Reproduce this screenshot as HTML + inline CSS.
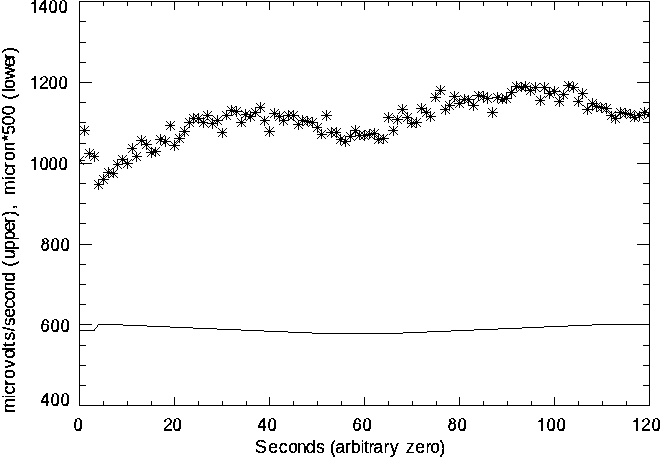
<!DOCTYPE html>
<html><head><meta charset="utf-8"><title>plot</title>
<style>
html,body{margin:0;padding:0;background:#fff;}
body{width:660px;height:457px;overflow:hidden;}
svg{display:block;}
text{font-family:"Liberation Sans",sans-serif;font-size:17.65px;white-space:pre;fill:#000;}
</style></head><body>
<svg width="660" height="457" viewBox="0 0 660 457">
<defs>
<filter id="th" x="-5%" y="-20%" width="110%" height="140%" color-interpolation-filters="sRGB">
<feComponentTransfer><feFuncA type="discrete" tableValues="0 1 1"/></feComponentTransfer>
</filter>
<clipPath id="clip"><rect x="79" y="1" width="571" height="405"/></clipPath>
<g id="a"><path d="M-5 0.5H6M0.5 -5V6M-3 -3L4 4M-3 4L4 -3" /></g>
</defs>
<rect width="660" height="457" fill="#fff"/>

<path fill="#000" shape-rendering="crispEdges" d="M79 1h571v1h-571zM79 405h571v1h-571zM79 1h1v405h-1zM649 1h1v405h-1zM103 401h1v5h-1zM103 1h1v5h-1zM127 401h1v5h-1zM127 1h1v5h-1zM151 401h1v5h-1zM151 1h1v5h-1zM174 397h1v9h-1zM174 1h1v9h-1zM198 401h1v5h-1zM198 1h1v5h-1zM222 401h1v5h-1zM222 1h1v5h-1zM246 401h1v5h-1zM246 1h1v5h-1zM269 397h1v9h-1zM269 1h1v9h-1zM293 401h1v5h-1zM293 1h1v5h-1zM317 401h1v5h-1zM317 1h1v5h-1zM341 401h1v5h-1zM341 1h1v5h-1zM364 397h1v9h-1zM364 1h1v9h-1zM388 401h1v5h-1zM388 1h1v5h-1zM412 401h1v5h-1zM412 1h1v5h-1zM436 401h1v5h-1zM436 1h1v5h-1zM459 397h1v9h-1zM459 1h1v9h-1zM483 401h1v5h-1zM483 1h1v5h-1zM507 401h1v5h-1zM507 1h1v5h-1zM531 401h1v5h-1zM531 1h1v5h-1zM554 397h1v9h-1zM554 1h1v9h-1zM578 401h1v5h-1zM578 1h1v5h-1zM602 401h1v5h-1zM602 1h1v5h-1zM626 401h1v5h-1zM626 1h1v5h-1zM79 385h7v1h-7zM643 385h7v1h-7zM79 365h7v1h-7zM643 365h7v1h-7zM79 345h7v1h-7zM643 345h7v1h-7zM79 324h13v1h-13zM637 324h13v1h-13zM79 304h7v1h-7zM643 304h7v1h-7zM79 284h7v1h-7zM643 284h7v1h-7zM79 264h7v1h-7zM643 264h7v1h-7zM79 244h13v1h-13zM637 244h13v1h-13zM79 223h7v1h-7zM643 223h7v1h-7zM79 203h7v1h-7zM643 203h7v1h-7zM79 183h7v1h-7zM643 183h7v1h-7zM79 163h13v1h-13zM637 163h13v1h-13zM79 143h7v1h-7zM643 143h7v1h-7zM79 122h7v1h-7zM643 122h7v1h-7zM79 102h7v1h-7zM643 102h7v1h-7zM79 82h13v1h-13zM637 82h13v1h-13zM79 62h7v1h-7zM643 62h7v1h-7zM79 42h7v1h-7zM643 42h7v1h-7zM79 21h7v1h-7zM643 21h7v1h-7z"/>
<g fill="#000" shape-rendering="crispEdges">
<rect x="79" y="330" width="16" height="1"/>
<rect x="94" y="329" width="1" height="1"/>
<rect x="95" y="328" width="1" height="1"/>
<rect x="96" y="327" width="1" height="1"/>
<rect x="97" y="326" width="1" height="1"/>
<rect x="97" y="325" width="1" height="1"/>
<rect x="98" y="324" width="25" height="1"/>
<rect x="123" y="325" width="24" height="1"/>
<rect x="147" y="326" width="23" height="1"/>
<rect x="170" y="327" width="23" height="1"/>
<rect x="193" y="328" width="24" height="1"/>
<rect x="217" y="329" width="24" height="1"/>
<rect x="241" y="330" width="23" height="1"/>
<rect x="264" y="331" width="24" height="1"/>
<rect x="288" y="332" width="24" height="1"/>
<rect x="312" y="333" width="91" height="1"/>
<rect x="403" y="332" width="24" height="1"/>
<rect x="427" y="331" width="24" height="1"/>
<rect x="451" y="330" width="23" height="1"/>
<rect x="474" y="329" width="24" height="1"/>
<rect x="498" y="328" width="24" height="1"/>
<rect x="522" y="327" width="22" height="1"/>
<rect x="544" y="326" width="24" height="1"/>
<rect x="568" y="325" width="24" height="1"/>
<rect x="592" y="324" width="58" height="1"/>
</g>
<defs>
<path id="s0" d="M-4 0h10v1h-10zM0 -4h1v10h-1zM-4 -4h1v1h-1zM-4 4h1v1h-1zM-3 -3h1v1h-1zM-3 3h1v1h-1zM-2 -2h1v1h-1zM-2 2h1v1h-1zM-1 -1h1v1h-1zM-1 1h1v1h-1zM1 1h1v1h-1zM1 -1h1v1h-1zM2 2h1v1h-1zM2 -2h1v1h-1zM3 3h1v1h-1zM3 -3h1v1h-1zM4 4h1v1h-1zM4 -4h1v1h-1z"/>
<path id="s1" d="M-5 0h11v1h-11zM0 -5h1v11h-1zM-4 -4h1v1h-1zM-4 4h1v1h-1zM-3 -3h1v1h-1zM-3 3h1v1h-1zM-2 -2h1v1h-1zM-2 2h1v1h-1zM-1 -1h1v1h-1zM-1 1h1v1h-1zM1 1h1v1h-1zM1 -1h1v1h-1zM2 2h1v1h-1zM2 -2h1v1h-1zM3 3h1v1h-1zM3 -3h1v1h-1zM4 4h1v1h-1zM4 -4h1v1h-1z"/>
<path id="s2" d="M-5 0h10v1h-10zM0 -5h1v11h-1zM-4 -4h1v1h-1zM-4 4h1v1h-1zM-3 -3h1v1h-1zM-3 3h1v1h-1zM-2 -2h1v1h-1zM-2 2h1v1h-1zM-1 -1h1v1h-1zM-1 1h1v1h-1zM1 1h1v1h-1zM1 -1h1v1h-1zM2 2h1v1h-1zM2 -2h1v1h-1zM3 3h1v1h-1zM3 -3h1v1h-1zM4 4h1v1h-1zM4 -4h1v1h-1z"/>
<path id="s3" d="M-4 0h10v1h-10zM0 -5h1v11h-1zM-4 -4h1v1h-1zM-4 4h1v1h-1zM-3 -3h1v1h-1zM-3 3h1v1h-1zM-2 -2h1v1h-1zM-2 2h1v1h-1zM-1 -1h1v1h-1zM-1 1h1v1h-1zM1 1h1v1h-1zM1 -1h1v1h-1zM2 2h1v1h-1zM2 -2h1v1h-1zM3 3h1v1h-1zM3 -3h1v1h-1zM4 4h1v1h-1zM4 -4h1v1h-1z"/>
<path id="s4" d="M-5 0h10v1h-10zM0 -5h1v10h-1zM-4 -4h1v1h-1zM-4 4h1v1h-1zM-3 -3h1v1h-1zM-3 3h1v1h-1zM-2 -2h1v1h-1zM-2 2h1v1h-1zM-1 -1h1v1h-1zM-1 1h1v1h-1zM1 1h1v1h-1zM1 -1h1v1h-1zM2 2h1v1h-1zM2 -2h1v1h-1zM3 3h1v1h-1zM3 -3h1v1h-1zM4 4h1v1h-1zM4 -4h1v1h-1z"/>
<path id="s5" d="M-4 0h10v1h-10zM0 -5h1v10h-1zM-4 -4h1v1h-1zM-4 4h1v1h-1zM-3 -3h1v1h-1zM-3 3h1v1h-1zM-2 -2h1v1h-1zM-2 2h1v1h-1zM-1 -1h1v1h-1zM-1 1h1v1h-1zM1 1h1v1h-1zM1 -1h1v1h-1zM2 2h1v1h-1zM2 -2h1v1h-1zM3 3h1v1h-1zM3 -3h1v1h-1zM4 4h1v1h-1zM4 -4h1v1h-1z"/>
<path id="s6" d="M-5 0h11v1h-11zM0 -4h1v10h-1zM-4 -4h1v1h-1zM-4 4h1v1h-1zM-3 -3h1v1h-1zM-3 3h1v1h-1zM-2 -2h1v1h-1zM-2 2h1v1h-1zM-1 -1h1v1h-1zM-1 1h1v1h-1zM1 1h1v1h-1zM1 -1h1v1h-1zM2 2h1v1h-1zM2 -2h1v1h-1zM3 3h1v1h-1zM3 -3h1v1h-1zM4 4h1v1h-1zM4 -4h1v1h-1z"/>
<path id="s7" d="M-5 0h10v1h-10zM0 -4h1v10h-1zM-4 -4h1v1h-1zM-4 4h1v1h-1zM-3 -3h1v1h-1zM-3 3h1v1h-1zM-2 -2h1v1h-1zM-2 2h1v1h-1zM-1 -1h1v1h-1zM-1 1h1v1h-1zM1 1h1v1h-1zM1 -1h1v1h-1zM2 2h1v1h-1zM2 -2h1v1h-1zM3 3h1v1h-1zM3 -3h1v1h-1zM4 4h1v1h-1zM4 -4h1v1h-1z"/>
<path id="s8" d="M-5 0h11v1h-11zM0 -5h1v10h-1zM-4 -4h1v1h-1zM-4 4h1v1h-1zM-3 -3h1v1h-1zM-3 3h1v1h-1zM-2 -2h1v1h-1zM-2 2h1v1h-1zM-1 -1h1v1h-1zM-1 1h1v1h-1zM1 1h1v1h-1zM1 -1h1v1h-1zM2 2h1v1h-1zM2 -2h1v1h-1zM3 3h1v1h-1zM3 -3h1v1h-1zM4 4h1v1h-1zM4 -4h1v1h-1z"/>
</defs>
<g clip-path="url(#clip)" fill="#000" shape-rendering="crispEdges">
<use href="#s0" x="79" y="160"/>
<use href="#s1" x="84" y="130"/>
<use href="#s1" x="89" y="153"/>
<use href="#s2" x="94" y="156"/>
<use href="#s3" x="98" y="184"/>
<use href="#s1" x="103" y="179"/>
<use href="#s1" x="108" y="172"/>
<use href="#s4" x="113" y="173"/>
<use href="#s5" x="117" y="164"/>
<use href="#s6" x="122" y="159"/>
<use href="#s1" x="127" y="163"/>
<use href="#s2" x="132" y="148"/>
<use href="#s0" x="136" y="156"/>
<use href="#s1" x="141" y="140"/>
<use href="#s1" x="146" y="144"/>
<use href="#s2" x="151" y="152"/>
<use href="#s0" x="155" y="151"/>
<use href="#s1" x="160" y="139"/>
<use href="#s1" x="165" y="141"/>
<use href="#s7" x="170" y="125"/>
<use href="#s3" x="174" y="145"/>
<use href="#s8" x="179" y="138"/>
<use href="#s1" x="184" y="131"/>
<use href="#s2" x="189" y="122"/>
<use href="#s3" x="193" y="118"/>
<use href="#s1" x="198" y="118"/>
<use href="#s2" x="203" y="122"/>
<use href="#s5" x="207" y="115"/>
<use href="#s1" x="212" y="123"/>
<use href="#s1" x="217" y="120"/>
<use href="#s7" x="222" y="132"/>
<use href="#s5" x="226" y="115"/>
<use href="#s8" x="231" y="110"/>
<use href="#s1" x="236" y="111"/>
<use href="#s4" x="241" y="122"/>
<use href="#s3" x="245" y="114"/>
<use href="#s1" x="250" y="116"/>
<use href="#s8" x="255" y="112"/>
<use href="#s4" x="260" y="107"/>
<use href="#s0" x="264" y="120"/>
<use href="#s1" x="269" y="131"/>
<use href="#s1" x="274" y="113"/>
<use href="#s2" x="279" y="116"/>
<use href="#s3" x="283" y="120"/>
<use href="#s1" x="288" y="115"/>
<use href="#s1" x="293" y="115"/>
<use href="#s7" x="298" y="124"/>
<use href="#s3" x="302" y="120"/>
<use href="#s8" x="307" y="121"/>
<use href="#s8" x="312" y="122"/>
<use href="#s2" x="317" y="127"/>
<use href="#s5" x="321" y="134"/>
<use href="#s1" x="326" y="115"/>
<use href="#s1" x="331" y="132"/>
<use href="#s2" x="336" y="132"/>
<use href="#s3" x="340" y="139"/>
<use href="#s1" x="345" y="141"/>
<use href="#s8" x="350" y="136"/>
<use href="#s2" x="355" y="130"/>
<use href="#s5" x="359" y="135"/>
<use href="#s1" x="364" y="135"/>
<use href="#s8" x="369" y="134"/>
<use href="#s2" x="374" y="133"/>
<use href="#s5" x="378" y="139"/>
<use href="#s6" x="383" y="138"/>
<use href="#s1" x="388" y="117"/>
<use href="#s7" x="393" y="130"/>
<use href="#s6" x="397" y="119"/>
<use href="#s8" x="402" y="109"/>
<use href="#s2" x="407" y="117"/>
<use href="#s5" x="411" y="123"/>
<use href="#s1" x="416" y="122"/>
<use href="#s1" x="421" y="108"/>
<use href="#s2" x="426" y="112"/>
<use href="#s3" x="430" y="116"/>
<use href="#s8" x="435" y="97"/>
<use href="#s8" x="440" y="90"/>
<use href="#s2" x="445" y="109"/>
<use href="#s3" x="449" y="105"/>
<use href="#s1" x="454" y="96"/>
<use href="#s8" x="459" y="103"/>
<use href="#s4" x="464" y="99"/>
<use href="#s0" x="468" y="99"/>
<use href="#s1" x="473" y="105"/>
<use href="#s6" x="478" y="95"/>
<use href="#s2" x="483" y="96"/>
<use href="#s3" x="487" y="98"/>
<use href="#s1" x="492" y="112"/>
<use href="#s1" x="497" y="97"/>
<use href="#s4" x="502" y="99"/>
<use href="#s3" x="506" y="98"/>
<use href="#s1" x="511" y="92"/>
<use href="#s8" x="516" y="86"/>
<use href="#s4" x="521" y="87"/>
<use href="#s3" x="525" y="86"/>
<use href="#s1" x="530" y="90"/>
<use href="#s1" x="535" y="87"/>
<use href="#s2" x="540" y="100"/>
<use href="#s3" x="544" y="87"/>
<use href="#s1" x="549" y="93"/>
<use href="#s8" x="554" y="91"/>
<use href="#s2" x="559" y="101"/>
<use href="#s0" x="563" y="94"/>
<use href="#s6" x="568" y="85"/>
<use href="#s1" x="573" y="87"/>
<use href="#s2" x="578" y="101"/>
<use href="#s3" x="582" y="93"/>
<use href="#s1" x="587" y="109"/>
<use href="#s1" x="592" y="103"/>
<use href="#s3" x="596" y="106"/>
<use href="#s6" x="601" y="107"/>
<use href="#s1" x="606" y="108"/>
<use href="#s7" x="611" y="115"/>
<use href="#s0" x="615" y="118"/>
<use href="#s1" x="620" y="112"/>
<use href="#s8" x="625" y="113"/>
<use href="#s4" x="630" y="114"/>
<use href="#s5" x="634" y="117"/>
<use href="#s6" x="639" y="115"/>
<use href="#s1" x="644" y="112"/>
<use href="#s2" x="649" y="114"/>
</g>
<path fill="#000" shape-rendering="crispEdges" d="M34 0h2v1h-2zM34 1h2v1h-2zM32 2h4v1h-4zM31 3h5v1h-5zM34 4h2v1h-2zM34 5h2v1h-2zM34 6h2v1h-2zM34 7h2v1h-2zM34 8h2v1h-2zM34 9h2v1h-2zM34 10h2v1h-2zM34 11h2v1h-2zM34 12h2v1h-2zM44 0h2v1h-2zM43 1h3v1h-3zM42 2h4v1h-4zM41 3h5v1h-5zM41 4h2v1h-2zM44 4h2v1h-2zM40 5h2v1h-2zM44 5h2v1h-2zM40 6h2v1h-2zM44 6h2v1h-2zM39 7h2v1h-2zM44 7h2v1h-2zM39 8h8v1h-8zM39 9h8v1h-8zM44 10h2v1h-2zM44 11h2v1h-2zM44 12h2v1h-2zM52 0h3v1h-3zM50 1h2v1h-2zM54 1h2v1h-2zM50 2h2v1h-2zM55 2h2v1h-2zM50 3h2v1h-2zM55 3h2v1h-2zM49 4h2v1h-2zM55 4h2v1h-2zM49 5h2v1h-2zM55 5h2v1h-2zM49 6h2v1h-2zM55 6h2v1h-2zM49 7h2v1h-2zM55 7h2v1h-2zM49 8h2v1h-2zM55 8h2v1h-2zM49 9h2v1h-2zM55 9h2v1h-2zM50 10h1v1h-1zM54 10h3v1h-3zM50 11h6v1h-6zM51 12h5v1h-5zM62 0h3v1h-3zM60 1h2v1h-2zM64 1h2v1h-2zM60 2h2v1h-2zM65 2h2v1h-2zM60 3h2v1h-2zM65 3h2v1h-2zM59 4h2v1h-2zM65 4h2v1h-2zM59 5h2v1h-2zM65 5h2v1h-2zM59 6h2v1h-2zM65 6h2v1h-2zM59 7h2v1h-2zM65 7h2v1h-2zM59 8h2v1h-2zM65 8h2v1h-2zM59 9h2v1h-2zM65 9h2v1h-2zM60 10h1v1h-1zM64 10h3v1h-3zM60 11h6v1h-6zM61 12h5v1h-5zM34 76h2v1h-2zM34 77h2v1h-2zM32 78h4v1h-4zM31 79h5v1h-5zM34 80h2v1h-2zM34 81h2v1h-2zM34 82h2v1h-2zM34 83h2v1h-2zM34 84h2v1h-2zM34 85h2v1h-2zM34 86h2v1h-2zM34 87h2v1h-2zM34 88h2v1h-2zM43 76h3v1h-3zM41 77h2v1h-2zM45 77h2v1h-2zM40 78h2v1h-2zM46 78h2v1h-2zM40 79h2v1h-2zM46 79h2v1h-2zM46 80h2v1h-2zM45 81h2v1h-2zM44 82h3v1h-3zM43 83h2v1h-2zM42 84h2v1h-2zM41 85h2v1h-2zM40 86h2v1h-2zM40 87h8v1h-8zM40 88h8v1h-8zM52 76h3v1h-3zM50 77h2v1h-2zM54 77h2v1h-2zM50 78h2v1h-2zM55 78h2v1h-2zM50 79h2v1h-2zM55 79h2v1h-2zM49 80h2v1h-2zM55 80h2v1h-2zM49 81h2v1h-2zM55 81h2v1h-2zM49 82h2v1h-2zM55 82h2v1h-2zM49 83h2v1h-2zM55 83h2v1h-2zM49 84h2v1h-2zM55 84h2v1h-2zM49 85h2v1h-2zM55 85h2v1h-2zM50 86h1v1h-1zM54 86h3v1h-3zM50 87h6v1h-6zM51 88h5v1h-5zM62 76h3v1h-3zM60 77h2v1h-2zM64 77h2v1h-2zM60 78h2v1h-2zM65 78h2v1h-2zM60 79h2v1h-2zM65 79h2v1h-2zM59 80h2v1h-2zM65 80h2v1h-2zM59 81h2v1h-2zM65 81h2v1h-2zM59 82h2v1h-2zM65 82h2v1h-2zM59 83h2v1h-2zM65 83h2v1h-2zM59 84h2v1h-2zM65 84h2v1h-2zM59 85h2v1h-2zM65 85h2v1h-2zM60 86h1v1h-1zM64 86h3v1h-3zM60 87h6v1h-6zM61 88h5v1h-5zM34 157h2v1h-2zM34 158h2v1h-2zM32 159h4v1h-4zM31 160h5v1h-5zM34 161h2v1h-2zM34 162h2v1h-2zM34 163h2v1h-2zM34 164h2v1h-2zM34 165h2v1h-2zM34 166h2v1h-2zM34 167h2v1h-2zM34 168h2v1h-2zM34 169h2v1h-2zM43 157h3v1h-3zM41 158h2v1h-2zM45 158h2v1h-2zM41 159h2v1h-2zM46 159h2v1h-2zM41 160h2v1h-2zM46 160h2v1h-2zM40 161h2v1h-2zM46 161h2v1h-2zM40 162h2v1h-2zM46 162h2v1h-2zM40 163h2v1h-2zM46 163h2v1h-2zM40 164h2v1h-2zM46 164h2v1h-2zM40 165h2v1h-2zM46 165h2v1h-2zM40 166h2v1h-2zM46 166h2v1h-2zM41 167h1v1h-1zM45 167h3v1h-3zM41 168h6v1h-6zM42 169h5v1h-5zM52 157h3v1h-3zM50 158h2v1h-2zM54 158h2v1h-2zM50 159h2v1h-2zM55 159h2v1h-2zM50 160h2v1h-2zM55 160h2v1h-2zM49 161h2v1h-2zM55 161h2v1h-2zM49 162h2v1h-2zM55 162h2v1h-2zM49 163h2v1h-2zM55 163h2v1h-2zM49 164h2v1h-2zM55 164h2v1h-2zM49 165h2v1h-2zM55 165h2v1h-2zM49 166h2v1h-2zM55 166h2v1h-2zM50 167h1v1h-1zM54 167h3v1h-3zM50 168h6v1h-6zM51 169h5v1h-5zM62 157h3v1h-3zM60 158h2v1h-2zM64 158h2v1h-2zM60 159h2v1h-2zM65 159h2v1h-2zM60 160h2v1h-2zM65 160h2v1h-2zM59 161h2v1h-2zM65 161h2v1h-2zM59 162h2v1h-2zM65 162h2v1h-2zM59 163h2v1h-2zM65 163h2v1h-2zM59 164h2v1h-2zM65 164h2v1h-2zM59 165h2v1h-2zM65 165h2v1h-2zM59 166h2v1h-2zM65 166h2v1h-2zM60 167h1v1h-1zM64 167h3v1h-3zM60 168h6v1h-6zM61 169h5v1h-5zM44 238h3v1h-3zM42 239h2v1h-2zM46 239h2v1h-2zM42 240h2v1h-2zM47 240h2v1h-2zM42 241h3v1h-3zM47 241h2v1h-2zM43 242h2v1h-2zM46 242h2v1h-2zM42 243h6v1h-6zM42 244h2v1h-2zM47 244h2v1h-2zM41 245h2v1h-2zM47 245h2v1h-2zM41 246h2v1h-2zM47 246h2v1h-2zM41 247h2v1h-2zM47 247h2v1h-2zM42 248h1v1h-1zM46 248h3v1h-3zM42 249h6v1h-6zM43 250h4v1h-4zM54 238h3v1h-3zM52 239h2v1h-2zM56 239h2v1h-2zM52 240h2v1h-2zM57 240h2v1h-2zM52 241h2v1h-2zM57 241h2v1h-2zM51 242h2v1h-2zM57 242h2v1h-2zM51 243h2v1h-2zM57 243h2v1h-2zM51 244h2v1h-2zM57 244h2v1h-2zM51 245h2v1h-2zM57 245h2v1h-2zM51 246h2v1h-2zM57 246h2v1h-2zM51 247h2v1h-2zM57 247h2v1h-2zM52 248h1v1h-1zM56 248h3v1h-3zM52 249h6v1h-6zM53 250h5v1h-5zM64 238h3v1h-3zM62 239h2v1h-2zM66 239h2v1h-2zM62 240h2v1h-2zM67 240h2v1h-2zM62 241h2v1h-2zM67 241h2v1h-2zM61 242h2v1h-2zM67 242h2v1h-2zM61 243h2v1h-2zM67 243h2v1h-2zM61 244h2v1h-2zM67 244h2v1h-2zM61 245h2v1h-2zM67 245h2v1h-2zM61 246h2v1h-2zM67 246h2v1h-2zM61 247h2v1h-2zM67 247h2v1h-2zM62 248h1v1h-1zM66 248h3v1h-3zM62 249h6v1h-6zM63 250h5v1h-5zM44 319h3v1h-3zM43 320h2v1h-2zM46 320h2v1h-2zM42 321h2v1h-2zM47 321h2v1h-2zM42 322h2v1h-2zM47 322h2v1h-2zM42 323h2v1h-2zM41 324h7v1h-7zM41 325h2v1h-2zM47 325h2v1h-2zM41 326h2v1h-2zM47 326h2v1h-2zM41 327h2v1h-2zM47 327h2v1h-2zM41 328h2v1h-2zM47 328h2v1h-2zM42 329h1v1h-1zM46 329h3v1h-3zM42 330h6v1h-6zM43 331h4v1h-4zM54 319h3v1h-3zM52 320h2v1h-2zM56 320h2v1h-2zM52 321h2v1h-2zM57 321h2v1h-2zM52 322h2v1h-2zM57 322h2v1h-2zM51 323h2v1h-2zM57 323h2v1h-2zM51 324h2v1h-2zM57 324h2v1h-2zM51 325h2v1h-2zM57 325h2v1h-2zM51 326h2v1h-2zM57 326h2v1h-2zM51 327h2v1h-2zM57 327h2v1h-2zM51 328h2v1h-2zM57 328h2v1h-2zM52 329h1v1h-1zM56 329h3v1h-3zM52 330h6v1h-6zM53 331h5v1h-5zM64 319h3v1h-3zM62 320h2v1h-2zM66 320h2v1h-2zM62 321h2v1h-2zM67 321h2v1h-2zM62 322h2v1h-2zM67 322h2v1h-2zM61 323h2v1h-2zM67 323h2v1h-2zM61 324h2v1h-2zM67 324h2v1h-2zM61 325h2v1h-2zM67 325h2v1h-2zM61 326h2v1h-2zM67 326h2v1h-2zM61 327h2v1h-2zM67 327h2v1h-2zM61 328h2v1h-2zM67 328h2v1h-2zM62 329h1v1h-1zM66 329h3v1h-3zM62 330h6v1h-6zM63 331h5v1h-5zM46 393h2v1h-2zM45 394h3v1h-3zM44 395h4v1h-4zM43 396h5v1h-5zM43 397h2v1h-2zM46 397h2v1h-2zM42 398h2v1h-2zM46 398h2v1h-2zM42 399h2v1h-2zM46 399h2v1h-2zM41 400h2v1h-2zM46 400h2v1h-2zM41 401h8v1h-8zM41 402h8v1h-8zM46 403h2v1h-2zM46 404h2v1h-2zM46 405h2v1h-2zM54 393h3v1h-3zM52 394h2v1h-2zM56 394h2v1h-2zM52 395h2v1h-2zM57 395h2v1h-2zM52 396h2v1h-2zM57 396h2v1h-2zM51 397h2v1h-2zM57 397h2v1h-2zM51 398h2v1h-2zM57 398h2v1h-2zM51 399h2v1h-2zM57 399h2v1h-2zM51 400h2v1h-2zM57 400h2v1h-2zM51 401h2v1h-2zM57 401h2v1h-2zM51 402h2v1h-2zM57 402h2v1h-2zM52 403h1v1h-1zM56 403h3v1h-3zM52 404h6v1h-6zM53 405h5v1h-5zM64 393h3v1h-3zM62 394h2v1h-2zM66 394h2v1h-2zM62 395h2v1h-2zM67 395h2v1h-2zM62 396h2v1h-2zM67 396h2v1h-2zM61 397h2v1h-2zM67 397h2v1h-2zM61 398h2v1h-2zM67 398h2v1h-2zM61 399h2v1h-2zM67 399h2v1h-2zM61 400h2v1h-2zM67 400h2v1h-2zM61 401h2v1h-2zM67 401h2v1h-2zM61 402h2v1h-2zM67 402h2v1h-2zM62 403h1v1h-1zM66 403h3v1h-3zM62 404h6v1h-6zM63 405h5v1h-5zM77 418h3v1h-3zM75 419h2v1h-2zM79 419h2v1h-2zM75 420h2v1h-2zM80 420h2v1h-2zM75 421h2v1h-2zM80 421h2v1h-2zM74 422h2v1h-2zM80 422h2v1h-2zM74 423h2v1h-2zM80 423h2v1h-2zM74 424h2v1h-2zM80 424h2v1h-2zM74 425h2v1h-2zM80 425h2v1h-2zM74 426h2v1h-2zM80 426h2v1h-2zM74 427h2v1h-2zM80 427h2v1h-2zM75 428h1v1h-1zM79 428h3v1h-3zM75 429h6v1h-6zM76 430h5v1h-5zM167 418h3v1h-3zM165 419h2v1h-2zM169 419h2v1h-2zM164 420h2v1h-2zM170 420h2v1h-2zM164 421h2v1h-2zM170 421h2v1h-2zM170 422h2v1h-2zM169 423h2v1h-2zM168 424h3v1h-3zM167 425h2v1h-2zM166 426h2v1h-2zM165 427h2v1h-2zM164 428h2v1h-2zM164 429h8v1h-8zM164 430h8v1h-8zM176 418h3v1h-3zM174 419h2v1h-2zM178 419h2v1h-2zM174 420h2v1h-2zM179 420h2v1h-2zM174 421h2v1h-2zM179 421h2v1h-2zM173 422h2v1h-2zM179 422h2v1h-2zM173 423h2v1h-2zM179 423h2v1h-2zM173 424h2v1h-2zM179 424h2v1h-2zM173 425h2v1h-2zM179 425h2v1h-2zM173 426h2v1h-2zM179 426h2v1h-2zM173 427h2v1h-2zM179 427h2v1h-2zM174 428h1v1h-1zM178 428h3v1h-3zM174 429h6v1h-6zM175 430h5v1h-5zM263 418h2v1h-2zM262 419h3v1h-3zM261 420h4v1h-4zM260 421h5v1h-5zM260 422h2v1h-2zM263 422h2v1h-2zM259 423h2v1h-2zM263 423h2v1h-2zM259 424h2v1h-2zM263 424h2v1h-2zM258 425h2v1h-2zM263 425h2v1h-2zM258 426h8v1h-8zM258 427h8v1h-8zM263 428h2v1h-2zM263 429h2v1h-2zM263 430h2v1h-2zM271 418h3v1h-3zM269 419h2v1h-2zM273 419h2v1h-2zM269 420h2v1h-2zM274 420h2v1h-2zM269 421h2v1h-2zM274 421h2v1h-2zM268 422h2v1h-2zM274 422h2v1h-2zM268 423h2v1h-2zM274 423h2v1h-2zM268 424h2v1h-2zM274 424h2v1h-2zM268 425h2v1h-2zM274 425h2v1h-2zM268 426h2v1h-2zM274 426h2v1h-2zM268 427h2v1h-2zM274 427h2v1h-2zM269 428h1v1h-1zM273 428h3v1h-3zM269 429h6v1h-6zM270 430h5v1h-5zM356 418h3v1h-3zM355 419h2v1h-2zM358 419h2v1h-2zM354 420h2v1h-2zM359 420h2v1h-2zM354 421h2v1h-2zM359 421h2v1h-2zM354 422h2v1h-2zM353 423h7v1h-7zM353 424h2v1h-2zM359 424h2v1h-2zM353 425h2v1h-2zM359 425h2v1h-2zM353 426h2v1h-2zM359 426h2v1h-2zM353 427h2v1h-2zM359 427h2v1h-2zM354 428h1v1h-1zM358 428h3v1h-3zM354 429h6v1h-6zM355 430h4v1h-4zM366 418h3v1h-3zM364 419h2v1h-2zM368 419h2v1h-2zM364 420h2v1h-2zM369 420h2v1h-2zM364 421h2v1h-2zM369 421h2v1h-2zM363 422h2v1h-2zM369 422h2v1h-2zM363 423h2v1h-2zM369 423h2v1h-2zM363 424h2v1h-2zM369 424h2v1h-2zM363 425h2v1h-2zM369 425h2v1h-2zM363 426h2v1h-2zM369 426h2v1h-2zM363 427h2v1h-2zM369 427h2v1h-2zM364 428h1v1h-1zM368 428h3v1h-3zM364 429h6v1h-6zM365 430h5v1h-5zM451 418h3v1h-3zM449 419h2v1h-2zM453 419h2v1h-2zM449 420h2v1h-2zM454 420h2v1h-2zM449 421h3v1h-3zM454 421h2v1h-2zM450 422h2v1h-2zM453 422h2v1h-2zM449 423h6v1h-6zM449 424h2v1h-2zM454 424h2v1h-2zM448 425h2v1h-2zM454 425h2v1h-2zM448 426h2v1h-2zM454 426h2v1h-2zM448 427h2v1h-2zM454 427h2v1h-2zM449 428h1v1h-1zM453 428h3v1h-3zM449 429h6v1h-6zM450 430h4v1h-4zM461 418h3v1h-3zM459 419h2v1h-2zM463 419h2v1h-2zM459 420h2v1h-2zM464 420h2v1h-2zM459 421h2v1h-2zM464 421h2v1h-2zM458 422h2v1h-2zM464 422h2v1h-2zM458 423h2v1h-2zM464 423h2v1h-2zM458 424h2v1h-2zM464 424h2v1h-2zM458 425h2v1h-2zM464 425h2v1h-2zM458 426h2v1h-2zM464 426h2v1h-2zM458 427h2v1h-2zM464 427h2v1h-2zM459 428h1v1h-1zM463 428h3v1h-3zM459 429h6v1h-6zM460 430h5v1h-5zM541 418h2v1h-2zM541 419h2v1h-2zM539 420h4v1h-4zM538 421h5v1h-5zM541 422h2v1h-2zM541 423h2v1h-2zM541 424h2v1h-2zM541 425h2v1h-2zM541 426h2v1h-2zM541 427h2v1h-2zM541 428h2v1h-2zM541 429h2v1h-2zM541 430h2v1h-2zM550 418h3v1h-3zM548 419h2v1h-2zM552 419h2v1h-2zM548 420h2v1h-2zM553 420h2v1h-2zM548 421h2v1h-2zM553 421h2v1h-2zM547 422h2v1h-2zM553 422h2v1h-2zM547 423h2v1h-2zM553 423h2v1h-2zM547 424h2v1h-2zM553 424h2v1h-2zM547 425h2v1h-2zM553 425h2v1h-2zM547 426h2v1h-2zM553 426h2v1h-2zM547 427h2v1h-2zM553 427h2v1h-2zM548 428h1v1h-1zM552 428h3v1h-3zM548 429h6v1h-6zM549 430h5v1h-5zM560 418h3v1h-3zM558 419h2v1h-2zM562 419h2v1h-2zM558 420h2v1h-2zM563 420h2v1h-2zM558 421h2v1h-2zM563 421h2v1h-2zM557 422h2v1h-2zM563 422h2v1h-2zM557 423h2v1h-2zM563 423h2v1h-2zM557 424h2v1h-2zM563 424h2v1h-2zM557 425h2v1h-2zM563 425h2v1h-2zM557 426h2v1h-2zM563 426h2v1h-2zM557 427h2v1h-2zM563 427h2v1h-2zM558 428h1v1h-1zM562 428h3v1h-3zM558 429h6v1h-6zM559 430h5v1h-5zM636 418h2v1h-2zM636 419h2v1h-2zM634 420h4v1h-4zM633 421h5v1h-5zM636 422h2v1h-2zM636 423h2v1h-2zM636 424h2v1h-2zM636 425h2v1h-2zM636 426h2v1h-2zM636 427h2v1h-2zM636 428h2v1h-2zM636 429h2v1h-2zM636 430h2v1h-2zM645 418h3v1h-3zM643 419h2v1h-2zM647 419h2v1h-2zM642 420h2v1h-2zM648 420h2v1h-2zM642 421h2v1h-2zM648 421h2v1h-2zM648 422h2v1h-2zM647 423h2v1h-2zM646 424h3v1h-3zM645 425h2v1h-2zM644 426h2v1h-2zM643 427h2v1h-2zM642 428h2v1h-2zM642 429h8v1h-8zM642 430h8v1h-8zM655 418h3v1h-3zM653 419h2v1h-2zM657 419h2v1h-2zM653 420h2v1h-2zM658 420h2v1h-2zM653 421h2v1h-2zM658 421h2v1h-2zM652 422h2v1h-2zM658 422h2v1h-2zM652 423h2v1h-2zM658 423h2v1h-2zM652 424h2v1h-2zM658 424h2v1h-2zM652 425h2v1h-2zM658 425h2v1h-2zM652 426h2v1h-2zM658 426h2v1h-2zM652 427h2v1h-2zM658 427h2v1h-2zM653 428h1v1h-1zM657 428h3v1h-3zM653 429h6v1h-6zM654 430h5v1h-5z"/>
<g filter="url(#th)">
<text x="255.00 268.37 278.69 288.31 296.83 305.75 316.06 324.89 329.79 335.17 345.08 350.86 360.58 364.10 368.60 373.18 383.60 389.87 399.80 405.80 415.23 425.44 430.32 439.54" y="452.8">Seconds (arbitrary zero)</text>
<text transform="translate(14.8 412.9) rotate(-90)" x="-0.10 14.50 18.62 27.15 33.93 44.44 54.17 62.18 66.10 72.61 81.43 86.84 95.26 104.28 112.60 121.62 130.94 141.05 146.26 153.63 162.75 172.57 181.58 190.10 196.47 203.55 208.26 213.06 217.86 232.67 237.19 245.11 251.99 261.61 271.42 278.29 287.61 297.72 307.84 313.14 320.72 324.04 333.46 345.70 353.52 360.10" y="0" xml:space="preserve">microvolts/second (upper),  micron*500 (lower)</text>
</g>
</svg></body></html>
